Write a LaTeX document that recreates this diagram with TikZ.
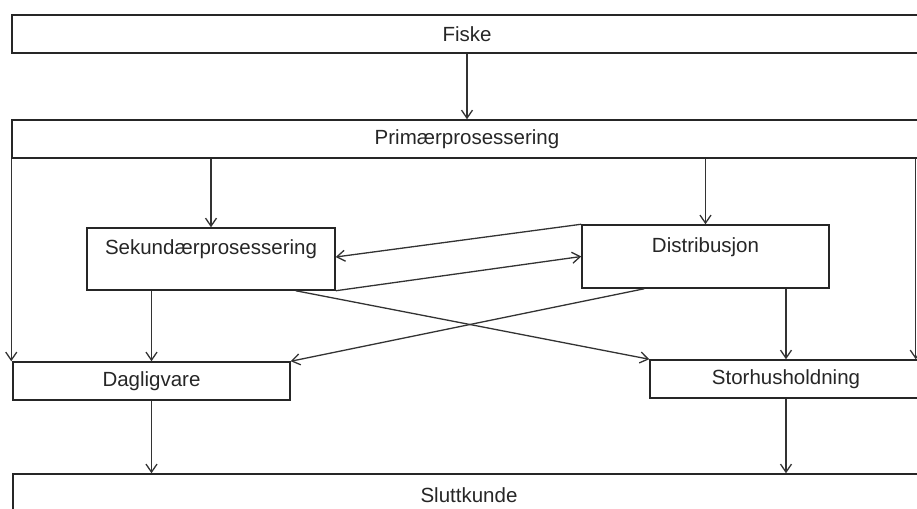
\documentclass[tikz,border=0pt]{standalone}
\usepackage{fontspec}
\setmainfont{Liberation Sans}
\usetikzlibrary{arrows.meta}

\begin{document}
\begin{tikzpicture}[x=1pt,y=-1pt,
  box/.style={draw=black!85,line width=1.5pt,inner sep=0pt,align=center,
    text=black!85,font=\fontsize{20.5}{22}\selectfont},
  arr/.style={draw=black!80,line width=1.3pt,-{Straight Barb[length=8pt,width=11pt]}}]
\useasboundingbox (0,0) rectangle (917,508);
\clip (0,0) rectangle (917,508);
% wide boxes
\node[box,minimum width=910pt,minimum height=38pt] (fiske) at (467,34) {Fiske};
\node[box,minimum width=910pt,minimum height=38pt] (primaer) at (467,139) {Primærprosessering};
% middle row
\node[box,minimum width=248pt,minimum height=62pt] (sek) at (211,259) {Sekundærprosessering\\[-5pt] \strut};
\node[box,minimum width=247pt,minimum height=63pt] (dist) at (705.5,256.5) {Distribusjon\\[-5pt] \strut};
% outlets
\node[box,minimum width=277pt,minimum height=38pt] (dag) at (151.5,381) {Dagligvare};
\node[box,minimum width=272pt,minimum height=38pt] (stor) at (786,379) {Storhusholdning};
\node[box,minimum width=912pt,minimum height=42pt] (slutt) at (469,495) {Sluttkunde};
\coordinate (rgt) at ([xshift=-7pt]primaer.south east);
% flows
\draw[arr] (fiske.south) -- (primaer.north);
\draw[arr] (primaer.south -| sek.north) -- (sek.north);
\draw[arr] (primaer.south -| dist.north) -- (dist.north);
\draw[arr] (primaer.south west) -- (primaer.south west |- dag.north);
\draw[arr] (rgt) -- (rgt |- stor.north);
\draw[arr] (dist.north west) -- ([yshift=2pt]sek.east);
\draw[arr] (sek.south east) -- (dist.west);
\draw[arr] ([xshift=-40pt]sek.south east) -- (stor.north west);
\draw[arr] ([xshift=63pt]dist.south west) -- (dag.north east);
\draw[arr] (sek.south -| dag.north) -- (dag.north);
\draw[arr] (dist.south -| stor.north) -- (stor.north);
\draw[arr] (dag.south) -- (dag.south |- slutt.north);
\draw[arr] (stor.south) -- (stor.south |- slutt.north);
\end{tikzpicture}
\end{document}
